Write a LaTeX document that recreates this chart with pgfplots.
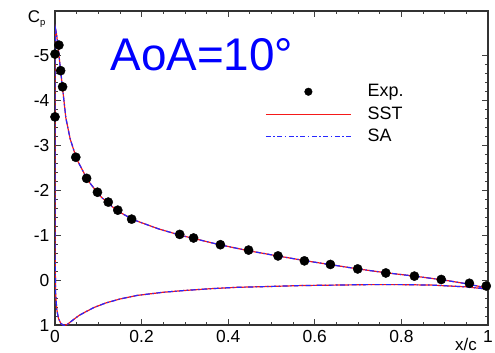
\documentclass[border=0pt]{standalone}
\usepackage{pgfplots}
\pgfplotsset{compat=1.18}
\usepackage{pgfplotstable}
\usepackage{fontspec}
\setmainfont{Liberation Sans}
\definecolor{sstred}{RGB}{245,25,25}
\definecolor{sablue}{RGB}{40,40,255}
\definecolor{aoablue}{RGB}{0,0,255}

\pgfplotstableread{
x cp
0.009 -5.24
0.000 -5.04
0.013 -4.67
0.0175 -4.31
0.000 -3.64
0.048 -2.74
0.073 -2.27
0.098 -1.96
0.123 -1.74
0.145 -1.56
0.177 -1.36
0.288 -1.02
0.320 -0.94
0.382 -0.79
0.447 -0.67
0.515 -0.54
0.576 -0.43
0.636 -0.35
0.699 -0.25
0.764 -0.16
0.830 -0.09
0.892 -0.015
0.957 0.07
0.996 0.13
}\expdata

\pgfplotstableread{
x cp
1.000 0.18
0.950 0.08
0.900 0.00
0.830 -0.09
0.760 -0.17
0.700 -0.25
0.640 -0.34
0.580 -0.43
0.520 -0.53
0.450 -0.65
0.380 -0.79
0.320 -0.93
0.290 -1.00
0.240 -1.14
0.180 -1.35
0.145 -1.54
0.120 -1.73
0.100 -1.92
0.075 -2.24
0.050 -2.70
0.035 -3.15
0.025 -3.62
0.0175 -4.28
0.012 -4.75
0.007 -5.22
0.003 -5.52
0.0012 -5.60
0.0004 -5.2
0.0000 -4.0
0.0000 -2.0
0.0003 -0.5
0.0015 0.3
0.004 0.65
0.008 0.85
0.013 0.96
0.020 1.01
0.028 0.99
0.040 0.90
0.055 0.79
0.070 0.71
0.090 0.61
0.117 0.51
0.150 0.42
0.190 0.34
0.250 0.27
0.300 0.23
0.360 0.19
0.420 0.16
0.500 0.14
0.570 0.12
0.650 0.11
0.720 0.10
0.800 0.10
0.870 0.11
0.950 0.15
1.000 0.20
}\cfddata

\begin{document}
\begin{tikzpicture}
\useasboundingbox (-55bp,-28bp) rectangle (440bp,325bp);
\begin{axis}[
  at={(0,0)}, anchor=south west,
  scale only axis,
  width=433bp, height=314bp,
  xmin=0, xmax=1, ymin=-6, ymax=1,
  y dir=reverse,
  xtick={0,0.2,0.4,0.6,0.8,1},
  xticklabels={0,0.2,0.4,0.6,0.8,1},
  ytick={-5,-4,-3,-2,-1,0,1},
  yticklabels={-5,-4,-3,-2,-1,0,1},
  minor x tick num=3,
  minor y tick num=4,
  tick align=inside,
  major tick length=6bp,
  minor tick length=3bp,
  every tick/.style={black!75, line width=0.8bp},
  axis line style={black!80, line width=1.3bp},
  tick label style={font=\fontsize{17.5}{20}\selectfont, inner sep=0.5bp},
  xticklabel style={yshift=-5bp},
  yticklabel style={xshift=-5bp},
  every axis y label/.style={at={(rel axis cs:0,1)}, anchor=north east, xshift=-6bp, yshift=4bp},
  ylabel={\fontsize{17}{19}\selectfont C\raisebox{-0.4ex}{\fontsize{9.5}{10}\selectfont p}},
  every axis x label/.style={at={(rel axis cs:0.949,0)}, anchor=north, yshift=-10bp},
  xlabel={\fontsize{17}{19}\selectfont x/c},
  legend style={draw=none, fill=none, at={(rel axis cs:0.485,0.769)}, anchor=north west,
    font=\fontsize{18}{21}\selectfont, row sep=6.5bp, column sep=16bp, inner sep=0pt,
    nodes={inner sep=0pt, text height=13bp, text depth=3bp}},
  legend cell align=left,
]
\addplot[only marks, mark=*, mark size=4.6bp, black,
  legend image code/.code={\draw[black, fill=black] (42.5bp,0bp) circle (3.8bp);}]
  table[x=x, y=cp] {\expdata};
\addlegendentry{Exp.}
\addplot[sstred, line width=1.2bp, no marks,
  legend image code/.code={\draw[sstred, line width=1.3bp] (0bp,0bp) -- (85bp,0bp);}]
  table[x=x, y=cp] {\cfddata};
\addlegendentry{SST}
\addplot[sablue, line width=1.2bp, no marks, dash pattern=on 5bp off 2.5bp on 1.5bp off 2.5bp,
  legend image code/.code={\draw[sablue, line width=1.4bp, dash pattern=on 5bp off 2.5bp on 1.5bp off 2.5bp] (0bp,0bp) -- (85bp,0bp);}]
  table[x=x, y=cp] {\cfddata};
\addlegendentry{SA}
\node[text=aoablue, font=\fontsize{46}{50}\selectfont, anchor=center] at (rel axis cs:0.339,0.86) {AoA=10°};
\end{axis}
\end{tikzpicture}
\end{document}
